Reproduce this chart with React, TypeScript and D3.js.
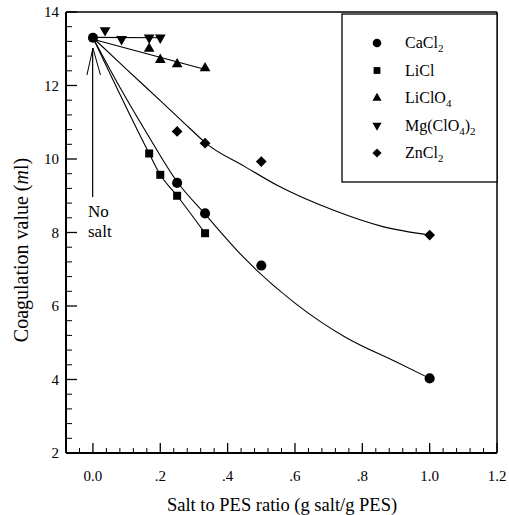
import React from "react";
import * as d3 from "d3";

// measured points
const caCl2X = [0, 0.25, 0.333, 0.5, 1.0];
const caCl2Y = [13.3, 9.35, 8.52, 7.1, 4.03];
const liClX = [0.167, 0.2, 0.25, 0.333];
const liClY = [10.15, 9.57, 9.0, 7.98];
const liClO4X = [0.167, 0.2, 0.25, 0.333];
const liClO4Y = [13.0, 12.7, 12.58, 12.47];
const mgX = [0.036, 0.085, 0.167, 0.2];
const mgY = [13.5, 13.26, 13.3, 13.3];
const znCl2X = [0.25, 0.333, 0.5, 1.0];
const znCl2Y = [10.75, 10.43, 9.93, 7.93];

// fitted curves
const caCl2FitX = [0, 0.08, 0.16, 0.25, 0.333, 0.45, 0.6, 0.75, 0.9, 1.0];
const caCl2FitY = [13.3, 11.95, 10.7, 9.38, 8.5, 7.3, 6.08, 5.15, 4.48, 4.03];
const liClFitX = [0, 0.167, 0.2, 0.25, 0.333];
const liClFitY = [13.3, 10.15, 9.57, 9.0, 7.98];
const liClO4FitX = [0, 0.337];
const liClO4FitY = [13.26, 12.43];
const mgFitX = [0, 0.204];
const mgFitY = [13.31, 13.3];
const znCl2FitX = [0, 0.1, 0.2, 0.288, 0.337, 0.45, 0.55, 0.713, 0.861, 1.0];
const znCl2FitY = [13.3, 12.44, 11.59, 10.83, 10.42, 9.8, 9.27, 8.61, 8.16, 7.93];

const xTicks = [0, 0.2, 0.4, 0.6, 0.8, 1.0, 1.2];
const xTickLabels = ["0.0", ".2", ".4", ".6", ".8", "1.0", "1.2"];
const yTicks = [2, 4, 6, 8, 10, 12, 14];

// legend labels as [text, subscript?] pieces
const legendLabels: [string, boolean][][] = [
    [["CaCl", false], ["2", true]],
    [["LiCl", false]],
    [["LiClO", false], ["4", true]],
    [["Mg(ClO", false], ["4", true], [")", false], ["2", true]],
    [["ZnCl", false], ["2", true]],
];

const W = 509;
const H = 515;
const margin = { top: 12, right: 12, bottom: 62, left: 66 };
const font = "Liberation Serif, Times New Roman, serif";

const x = d3.scaleLinear().domain([-0.08, 1.2]).range([margin.left, W - margin.right]);
const y = d3.scaleLinear().domain([2, 14]).range([H - margin.bottom, margin.top]);

const zip = (xs: number[], ys: number[]) => xs.map((v, i) => [v, ys[i]] as [number, number]);

const fitLine = d3
    .line<[number, number]>()
    .x((d) => x(d[0]))
    .y((d) => y(d[1]))
    .curve(d3.curveMonotoneX);

const symCircle = d3.symbol().type(d3.symbolCircle).size(80)();
const symSquare = d3.symbol().type(d3.symbolSquare).size(64)();
const symTriangle = d3.symbol().type(d3.symbolTriangle).size(50)();
const symDiamond = d3.symbol().type(d3.symbolSquare).size(58)();

const series = [
    { xs: caCl2X, ys: caCl2Y, fx: caCl2FitX, fy: caCl2FitY, path: symCircle, rot: 0 },
    { xs: liClX, ys: liClY, fx: liClFitX, fy: liClFitY, path: symSquare, rot: 0 },
    { xs: liClO4X, ys: liClO4Y, fx: liClO4FitX, fy: liClO4FitY, path: symTriangle, rot: 0 },
    { xs: mgX, ys: mgY, fx: mgFitX, fy: mgFitY, path: symTriangle, rot: 180 },
    { xs: znCl2X, ys: znCl2Y, fx: znCl2FitX, fy: znCl2FitY, path: symDiamond, rot: 45 },
];

export default function App() {
    const x0 = margin.left;
    const x1 = W - margin.right;
    const y0 = H - margin.bottom;
    const y1 = margin.top;

    const xMinor = d3.range(-0.04, 1.2, 0.04).filter((v) => Math.abs(v / 0.2 - Math.round(v / 0.2)) > 0.01);
    const yMinor = d3.range(2.4, 14, 0.4).filter((v) => Math.abs(v / 2 - Math.round(v / 2)) > 0.01);

    return (
        <svg width={W} height={H} style={{ position: "absolute", left: 0, top: 0, fontFamily: font }}>
            <rect width={W} height={H} fill="#fff" />

            {/* frame */}
            <line x1={x0} x2={x1} y1={y1} y2={y1} stroke="#000" strokeWidth={1.5} />
            <line x1={x1} x2={x1} y1={y1} y2={y0} stroke="#000" strokeWidth={1.5} />
            <line x1={x0} x2={x1} y1={y0} y2={y0} stroke="#000" strokeWidth={2} />
            <line x1={x0} x2={x0} y1={y1} y2={y0} stroke="#000" strokeWidth={2} />

            {/* x ticks */}
            {xTicks.map((t, i) => (
                <g key={"xt" + i}>
                    <line x1={x(t)} x2={x(t)} y1={y0} y2={y0 - 10} stroke="#000" strokeWidth={1.3} />
                    <text x={x(t)} y={481} textAnchor="middle" fontSize={15}>
                        {xTickLabels[i]}
                    </text>
                </g>
            ))}
            {xMinor.map((t, i) => (
                <line key={"xm" + i} x1={x(t)} x2={x(t)} y1={y0} y2={y0 - 5} stroke="#000" strokeWidth={1} />
            ))}

            {/* y ticks */}
            {yTicks.map((t, i) => (
                <g key={"yt" + i}>
                    <line x1={x0} x2={x0 + 11} y1={y(t)} y2={y(t)} stroke="#000" strokeWidth={1.3} />
                    <text x={59} y={y(t)} dy="0.35em" textAnchor="end" fontSize={15}>
                        {t}
                    </text>
                </g>
            ))}
            {yMinor.map((t, i) => (
                <line key={"ym" + i} x1={x0} x2={x0 + 6} y1={y(t)} y2={y(t)} stroke="#000" strokeWidth={1} />
            ))}

            {/* axis titles */}
            <text x={282} y={511} textAnchor="middle" fontSize={18.5}>
                Salt to PES ratio (g salt/g PES)
            </text>
            <text transform="translate(28,250) rotate(-90)" textAnchor="middle" fontSize={20}>
                Coagulation value (<tspan fontStyle="italic">m</tspan>l)
            </text>

            {/* fit curves */}
            {series.map((s, i) => (
                <path key={"f" + i} d={fitLine(zip(s.fx, s.fy)) || ""} fill="none" stroke="#000" strokeWidth={1.1} />
            ))}

            {/* markers */}
            {series.map((s, i) =>
                zip(s.xs, s.ys).map((p, j) => (
                    <path
                        key={"m" + i + "-" + j}
                        d={s.path || ""}
                        transform={`translate(${x(p[0])},${y(p[1])}) rotate(${s.rot})`}
                        fill="#000"
                    />
                ))
            )}

            {/* "No salt" arrow */}
            <line x1={x(0) - 0.3} x2={x(0) - 0.3} y1={48} y2={197} stroke="#000" strokeWidth={1.2} />
            <line x1={x(0)} x2={x(0) - 6} y1={48} y2={75} stroke="#000" strokeWidth={1} />
            <line x1={x(0)} x2={x(0) + 7.5} y1={48} y2={75} stroke="#000" strokeWidth={1} />
            <text x={88} y={217} fontSize={17}>No</text>
            <text x={88} y={237} fontSize={17}>salt</text>

            {/* legend */}
            <rect x={342} y={14} width={155} height={168} fill="#fff" stroke="#000" strokeWidth={1.3} />
            {series.map((s, i) => {
                const ly = 43 + i * 27.5;
                let shift = 0;
                return (
                    <g key={"l" + i}>
                        <path d={s.path || ""} transform={`translate(377,${ly}) rotate(${s.rot}) scale(0.85)`} fill="#000" />
                        <text x={405} y={ly + 5} fontSize={16}>
                            {legendLabels[i].map(([txt, isSub], k) => {
                                const target = isSub ? 4 : 0;
                                const dy = target - shift;
                                shift = target;
                                return (
                                    <tspan key={k} dy={dy} fontSize={isSub ? 11 : 16}>
                                        {txt}
                                    </tspan>
                                );
                            })}
                        </text>
                    </g>
                );
            })}
        </svg>
    );
}
